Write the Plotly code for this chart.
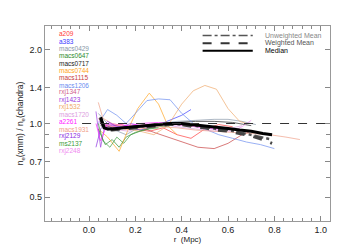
import plotly.graph_objects as go
import math

# ---------------- data ----------------
clusters = ["a209", "a383", "macs0429", "macs0647", "macs0717", "macs0744",
            "macs1115", "macs1206", "rxj1347", "rxj1423", "rxj1532", "macs1720",
            "a2261", "macs1931", "rxj2129", "ms2137", "rxj2248"]
colors = ["#ff3a3a", "#3a3aff", "#8796a8", "#2e8b2e", "#222222", "#ffa520",
          "#c83c3c", "#6a8cf0", "#d0608a", "#9a3ae0", "#f0a868", "#dca0e0",
          "#ff22ff", "#f0a088", "#8a2be2", "#3a9a3a", "#f08af0"]

r_vals = {
    "a209":     [0.05, 0.09, 0.14, 0.20, 0.26, 0.32, 0.38, 0.44, 0.50, 0.56, 0.62],
    "a383":     [0.05, 0.10, 0.16, 0.22, 0.28, 0.34, 0.40, 0.44],
    "macs0429": [0.04, 0.10, 0.16, 0.22, 0.30, 0.38, 0.46, 0.54, 0.60, 0.66, 0.72],
    "macs0647": [0.04, 0.07, 0.10, 0.13, 0.16, 0.20, 0.25, 0.30, 0.35],
    "macs0717": [0.05, 0.10, 0.16, 0.22, 0.30, 0.38, 0.46, 0.54, 0.62, 0.70],
    "macs0744": [0.04, 0.08, 0.13, 0.17, 0.21, 0.26, 0.30, 0.34, 0.38],
    "macs1115": [0.05, 0.10, 0.16, 0.22, 0.28, 0.34, 0.40, 0.47, 0.54, 0.60, 0.66, 0.70],
    "macs1206": [0.04, 0.08, 0.12, 0.16, 0.20, 0.25, 0.30, 0.35, 0.40, 0.45, 0.50, 0.56, 0.62, 0.68, 0.74, 0.80],
    "rxj1347":  [0.04, 0.07, 0.10, 0.15, 0.20, 0.25, 0.30],
    "rxj1423":  [0.03, 0.05, 0.07, 0.10, 0.14, 0.18, 0.22, 0.28],
    "rxj1532":  [0.05, 0.10, 0.16, 0.22, 0.28, 0.34, 0.40, 0.45, 0.50, 0.55, 0.60, 0.65, 0.68],
    "macs1720": [0.04, 0.10, 0.17, 0.24, 0.30, 0.38, 0.46, 0.54, 0.60, 0.66],
    "a2261":    [0.03, 0.05, 0.08, 0.12, 0.17, 0.22, 0.30, 0.38, 0.46, 0.54, 0.62],
    "macs1931": [0.04, 0.06, 0.10, 0.16, 0.22, 0.30, 0.38, 0.46, 0.54, 0.62, 0.70, 0.78, 0.85, 0.91],
    "rxj2129":  [0.03, 0.05, 0.08, 0.12, 0.16, 0.20, 0.25],
    "ms2137":   [0.04, 0.06, 0.09, 0.12, 0.15, 0.18, 0.22, 0.26, 0.30],
    "rxj2248":  [0.04, 0.10, 0.18, 0.26, 0.34, 0.42, 0.50, 0.56, 0.62, 0.66, 0.70],
}
ratio_vals = {
    "a209":     [1.02, 0.97, 0.99, 0.95, 0.93, 0.96, 0.90, 0.87, 0.95, 0.99, 0.97],
    "a383":     [1.00, 0.96, 0.98, 0.94, 0.97, 1.02, 1.08, 1.14],
    "macs0429": [1.10, 0.95, 0.90, 0.97, 1.00, 1.02, 1.03, 1.04, 1.04, 1.02, 0.99],
    "macs0647": [0.95, 0.82, 0.86, 0.80, 0.88, 0.92, 0.95, 0.97, 0.98],
    "macs0717": [0.98, 0.96, 0.97, 0.98, 1.00, 1.01, 1.02, 1.02, 1.01, 0.98],
    "macs0744": [0.95, 0.88, 0.77, 0.95, 1.15, 1.33, 1.20, 0.98, 0.90],
    "macs1115": [1.00, 0.97, 0.95, 0.97, 0.92, 0.88, 0.84, 0.80, 0.79, 0.83, 0.90, 0.93],
    "macs1206": [1.00, 1.14, 1.08, 1.00, 1.10, 1.24, 1.26, 1.25, 1.10, 1.00, 0.95, 0.90, 0.87, 0.84, 0.82, 0.79],
    "rxj1347":  [1.05, 0.97, 0.99, 0.96, 0.98, 0.99, 1.00],
    "rxj1423":  [1.12, 0.80, 1.00, 0.98, 0.97, 1.00, 0.98, 0.99],
    "rxj1532":  [1.00, 0.97, 0.95, 0.93, 0.90, 0.98, 1.20, 1.36, 1.43, 1.38, 1.15, 1.02, 1.00],
    "macs1720": [1.00, 0.95, 0.93, 0.98, 1.00, 0.97, 0.95, 0.93, 0.95, 0.98],
    "a2261":    [1.00, 0.85, 1.00, 0.99, 0.98, 1.00, 1.01, 0.99, 0.97, 0.95, 0.95],
    "macs1931": [1.22, 1.05, 1.00, 0.97, 0.95, 0.97, 0.96, 0.94, 0.93, 0.92, 0.91, 0.90, 0.88, 0.86],
    "rxj2129":  [0.80, 0.95, 1.02, 0.97, 0.96, 0.98, 0.97],
    "ms2137":   [1.00, 0.85, 0.80, 0.88, 0.83, 0.90, 0.93, 0.95, 0.96],
    "rxj2248":  [1.02, 0.97, 0.96, 0.97, 0.99, 0.98, 0.96, 0.94, 0.93, 0.97, 1.03],
}

stat_r = [0.05, 0.065, 0.08, 0.10, 0.15, 0.20, 0.25, 0.30, 0.35, 0.40, 0.45, 0.50,
          0.55, 0.60, 0.65, 0.70, 0.75, 0.79]
median_v = [1.06, 0.96, 0.95, 0.95, 0.96, 0.97, 0.98, 0.99, 1.00, 1.00, 0.99, 0.98,
            0.97, 0.955, 0.94, 0.93, 0.91, 0.90]
wmean_v = [1.05, 0.95, 0.94, 0.94, 0.95, 0.96, 0.97, 0.98, 0.99, 0.99, 0.97, 0.96,
           0.94, 0.93, 0.91, 0.89, 0.86, 0.83]
umean_v = [1.05, 0.96, 0.95, 0.95, 0.96, 0.97, 0.98, 0.99, 1.00, 0.99, 0.98, 0.97,
           0.95, 0.94, 0.92, 0.90, 0.88, 0.86]

x_ticks = [0.0, 0.2, 0.4, 0.6, 0.8, 1.0]
y_ticks = [0.5, 0.7, 1.0, 1.4, 2.0]
y_minor = [0.6, 0.8, 0.9]
legend_names = ["Unweighted Mean", "Weighted Mean", "Median"]

# ---------------- figure ----------------
fig = go.Figure()

for name, col in zip(clusters, colors):
    fig.add_trace(go.Scatter(x=r_vals[name], y=ratio_vals[name], mode="lines",
                             line=dict(color=col, width=0.8), opacity=0.85,
                             showlegend=False, hoverinfo="skip"))

fig.add_trace(go.Scatter(x=stat_r, y=umean_v, mode="lines",
                         line=dict(color="#555555", width=2.5, dash="dashdot"),
                         showlegend=False))
fig.add_trace(go.Scatter(x=stat_r, y=wmean_v, mode="lines",
                         line=dict(color="#444444", width=3, dash="dash"),
                         showlegend=False))
fig.add_trace(go.Scatter(x=stat_r, y=median_v, mode="lines",
                         line=dict(color="#000000", width=3),
                         showlegend=False))

# reference line at ratio 1
fig.add_shape(type="line", xref="x", yref="y", x0=-0.03, x1=1.04, y0=1.0, y1=1.0,
              line=dict(color="#333333", width=1, dash="dash"))

# manual legend (top right)
leg_styles = [("#555555", 1.5, "dashdot", "#888888"),
              ("#333333", 2, "dash", "#555555"),
              ("#000000", 2, "solid", "#000000")]
leg_y = [0.951, 0.912, 0.873]
for (lc, lw, ld, tc), yy, txt in zip(leg_styles, leg_y, legend_names):
    fig.add_shape(type="line", xref="paper", yref="paper", x0=0.553, x1=0.729,
                  y0=yy, y1=yy, line=dict(color=lc, width=lw, dash=ld))
    fig.add_annotation(xref="paper", yref="paper", x=0.766, y=yy, text=txt,
                       showarrow=False, xanchor="left", yanchor="middle",
                       font=dict(size=7, color=tc, family="Liberation Sans, Arial"))

# cluster name labels
for i, (name, col) in enumerate(zip(clusters, colors)):
    fig.add_annotation(xref="paper", yref="paper", x=0.041, y=0.960 - i * 0.0376,
                       text=name, showarrow=False, xanchor="left", yanchor="middle",
                       font=dict(size=6.5, color=col, family="Liberation Sans, Arial"))

axis_font = dict(size=9, color="#222222", family="Liberation Sans, Arial")
fig.update_xaxes(range=[-0.19, 1.04], tickvals=x_ticks,
                 ticktext=[f"{v:.1f}" for v in x_ticks],
                 ticks="inside", ticklen=5, tickcolor="#888888", mirror="ticks",
                 showline=True, linecolor="#999999", linewidth=1.2,
                 showgrid=False, zeroline=False, tickfont=axis_font,
                 minor=dict(dtick=0.04, ticks="inside", ticklen=3, tickcolor="#888888"),
                 title=dict(text="r  (Mpc)", font=dict(size=8, color="#222222",
                                                       family="Liberation Sans, Arial"),
                            standoff=2))
fig.update_yaxes(type="log", range=[math.log10(0.4), math.log10(2.5)],
                 tickvals=y_ticks, ticktext=[f"{v:.1f}" for v in y_ticks],
                 ticks="inside", ticklen=5, tickcolor="#888888", mirror="ticks",
                 showline=True, linecolor="#999999", linewidth=1.2,
                 showgrid=False, zeroline=False, tickfont=axis_font,
                 minor=dict(tickvals=y_minor, ticks="inside", ticklen=4, tickcolor="#888888"),
                 title=dict(text="n<sub>e</sub>(xmm) / n<sub>e</sub>(chandra)",
                            font=dict(size=8.5, color="#222222",
                                      family="Liberation Sans, Arial"),
                            standoff=4))

fig.update_layout(width=349, height=247, margin=dict(l=27, r=27, t=18, b=24),
                  plot_bgcolor="white", paper_bgcolor="white", showlegend=False)

fig.write_html("out.html")
